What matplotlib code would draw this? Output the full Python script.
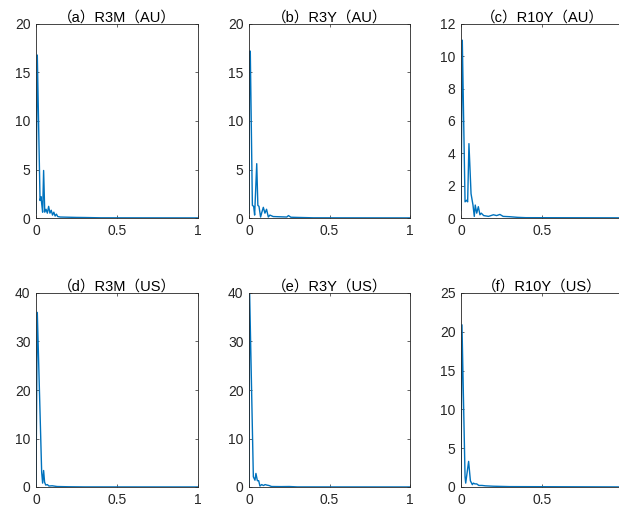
import matplotlib
matplotlib.use("Agg")
import matplotlib.pyplot as plt

plt.rcParams["font.family"] = ["Liberation Sans", "Noto Sans CJK JP", "DejaVu Sans"]

# frequency / periodogram values
freq_a = [0, 0.008, 0.025, 0.031, 0.035, 0.041, 0.047, 0.054, 0.062, 0.070, 0.078,
          0.086, 0.094, 0.102, 0.110, 0.118, 0.126, 0.134, 0.15, 0.2, 0.25, 0.3, 0.4, 1.0]
val_a = [0.5, 16.8, 1.8, 2.2, 1.5, 0.6, 4.9, 0.6, 0.9, 0.5, 1.2,
         0.5, 0.8, 0.3, 0.6, 0.2, 0.4, 0.15, 0.1, 0.08, 0.06, 0.05, 0.02, 0.01]

freq_b = [0, 0.004, 0.008, 0.021, 0.029, 0.035, 0.048, 0.055, 0.062, 0.072, 0.080,
          0.089, 0.099, 0.109, 0.12, 0.13, 0.15, 0.2, 0.235, 0.245, 0.26, 0.3, 0.4, 1.0]
val_b = [0.5, 17.2, 17.2, 1.3, 1.2, 0.3, 5.6, 1.3, 1.2, 0.1, 0.6,
         1.1, 0.5, 0.9, 0.1, 0.3, 0.15, 0.12, 0.1, 0.25, 0.08, 0.06, 0.02, 0.01]

freq_c = [0, 0.008, 0.025, 0.035, 0.041, 0.049, 0.062, 0.074, 0.082, 0.088, 0.097,
          0.107, 0.117, 0.125, 0.14, 0.17, 0.2, 0.22, 0.24, 0.26, 0.3, 0.35, 0.4, 1.0]
val_c = [0.5, 11.0, 1.0, 1.1, 1.0, 4.6, 1.5, 0.8, 0.1, 0.8, 0.3,
         0.7, 0.2, 0.3, 0.15, 0.1, 0.2, 0.15, 0.22, 0.1, 0.08, 0.04, 0.02, 0.01]

freq_d = [0, 0.008, 0.035, 0.041, 0.047, 0.053, 0.06, 0.07, 0.08, 0.1, 0.13, 0.2, 0.3, 1.0]
val_d = [0.5, 36.0, 3.0, 0.8, 3.4, 1.0, 0.4, 0.5, 0.2, 0.25, 0.1, 0.05, 0.02, 0.01]

freq_e = [0, 0.004, 0.027, 0.037, 0.043, 0.052, 0.06, 0.068, 0.079, 0.09, 0.1,
          0.11, 0.125, 0.14, 0.2, 0.25, 0.3, 1.0]
val_e = [0.5, 39.8, 2.1, 1.4, 2.8, 1.3, 1.3, 0.2, 0.5, 0.3, 0.5,
         0.4, 0.3, 0.1, 0.08, 0.1, 0.02, 0.01]

freq_f = [0, 0.006, 0.025, 0.029, 0.047, 0.058, 0.07, 0.076, 0.086, 0.097,
          0.11, 0.13, 0.15, 0.2, 0.3, 1.0]
val_f = [0.5, 20.9, 1.3, 0.5, 3.3, 0.8, 0.3, 0.5, 0.4, 0.4,
         0.2, 0.2, 0.15, 0.1, 0.05, 0.01]

titles = ["（a）R3M（AU）", "（b）R3Y（AU）", "（c）R10Y（AU）",
          "（d）R3M（US）", "（e）R3Y（US）", "（f）R10Y（US）"]
freqs = [freq_a, freq_b, freq_c, freq_d, freq_e, freq_f]
vals = [val_a, val_b, val_c, val_d, val_e, val_f]
ylims = [20, 20, 12, 40, 40, 25]
ysteps = [5, 5, 2, 10, 10, 5]

W, H = 619, 515
lefts = [36, 249, 461]
widths = [162, 161, 162]
tops = [24, 293]
ax_h = 194

fig = plt.figure(figsize=(W / 100, H / 100), dpi=100)
gray = "#262626"

for i in range(6):
    r, c = divmod(i, 3)
    ax = fig.add_axes([lefts[c] / W, (H - tops[r] - ax_h) / H, widths[c] / W, ax_h / H])
    ax.plot(freqs[i], vals[i], color="#0072BD", lw=1.0)
    ax.set_xlim(0, 1)
    ax.set_ylim(0, ylims[i])
    # right column is cut by the figure edge, its "1" label falls outside
    if c == 2:
        ax.set_xticks([0, 0.5])
        ax.set_xticklabels(["0", "0.5"])
    else:
        ax.set_xticks([0, 0.5, 1])
        ax.set_xticklabels(["0", "0.5", "1"])
    ax.set_yticks(range(0, ylims[i] + 1, ysteps[i]))
    ax.tick_params(direction="in", length=2.5, width=0.5, colors=gray,
                   labelsize=10, top=True, right=True, pad=4)
    for s in ax.spines.values():
        s.set_linewidth(0.6)
        s.set_color(gray)
    ax.set_title(titles[i], fontsize=10.5, color="black", pad=2)

fig.savefig("out.png", dpi=100)
